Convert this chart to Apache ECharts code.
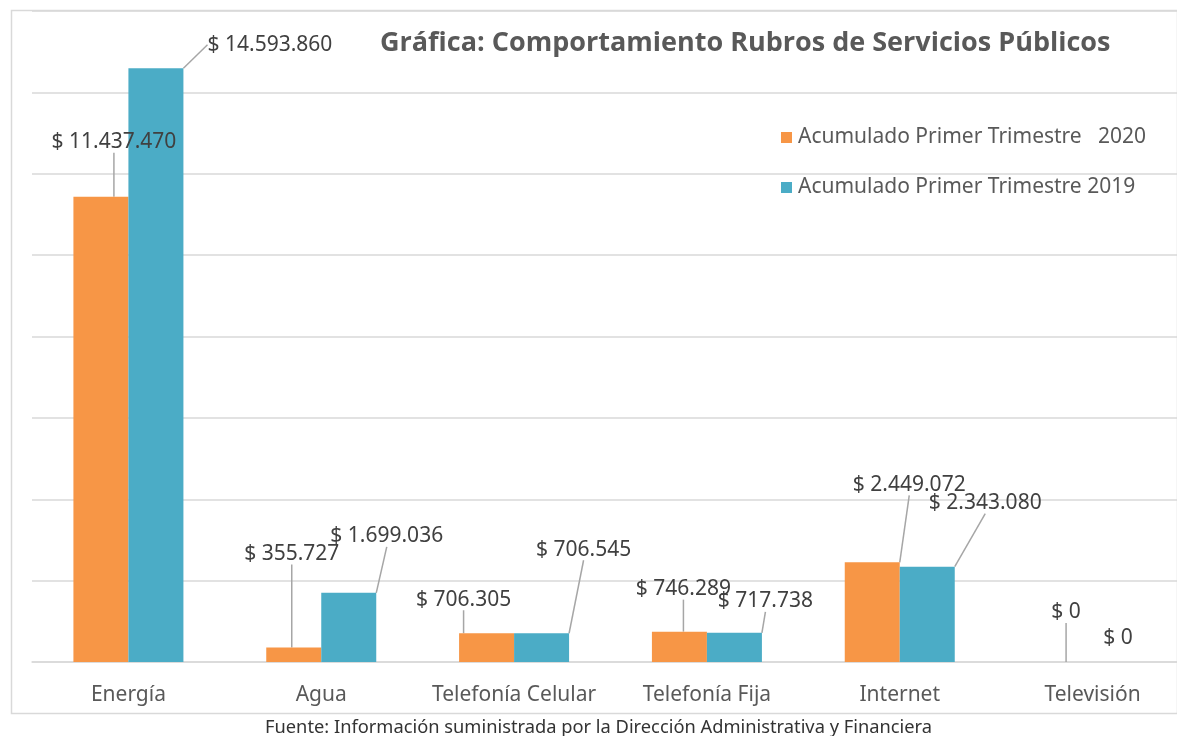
<!DOCTYPE html>
<html style="height: 100%">
<head>
    <meta charset="utf-8">
    <title>Comportamiento Rubros de Servicios Públicos</title>
</head>
<body style="height: 100%; margin: 0; background: #fff">
<div id="container" style="width: 1177px; height: 736px"></div>
<script type="text/javascript" src="https://cdn.jsdelivr.net/npm/echarts@6/dist/echarts.min.js"></script>
<script type="text/javascript">
    var categories = ['Energía', 'Agua', 'Telefonía Celular', 'Telefonía Fija', 'Internet', 'Televisión'];
    var seriesNames = ['Acumulado Primer Trimestre   2020', 'Acumulado Primer Trimestre 2019'];
    var values2020 = [11437470, 355727, 706305, 746289, 2449072, 0];
    var values2019 = [14593860, 1699036, 706545, 717738, 2343080, 0];

    // label offsets from the default "top" position (dx, dy), per series
    var labelShift = [
        [[13, -39], [-2, -78], [-23, -18], [4, -27], [37, -62], [1, -34]],
        [[114, -8], [38, -41], [42, -68], [31, -16], [58, -48], [-2, -8]]
    ];

    function money(v) {
        return '$ ' + String(v).replace(/\B(?=(\d{3})+(?!\d))/g, '.');
    }

    var dom = document.getElementById('container');
    var myChart = echarts.init(dom);

    function makeSeries(idx, values, color) {
        return {
            name: seriesNames[idx],
            type: 'bar',
            barWidth: 55,
            barGap: '0%',
            itemStyle: { color: color },
            label: {
                show: true,
                position: 'top',
                formatter: function (p) { return money(p.value); },
                fontFamily: 'Noto Sans',
                fontSize: 21,
                color: '#404040'
            },
            labelLine: {
                show: true,
                lineStyle: { color: '#a6a6a6', width: 1.5 }
            },
            data: values.map(function (v, i) {
                var item = { value: v };
                if (idx === 1 && i === 5) item.labelLine = { show: false };
                return item;
            })
        };
    }

    var option = {
        animation: false,
        title: {
            text: 'Gráfica: Comportamiento Rubros de Servicios Públicos',
            left: 375,
            top: 25,
            textStyle: {
                fontFamily: 'Open Sans',
                fontWeight: 'bold',
                fontSize: 27,
                color: '#595959'
            }
        },
        legend: {
            orient: 'vertical',
            left: 781,
            top: 127,
            padding: 0,
            itemWidth: 11,
            itemHeight: 11,
            itemGap: 29,
            icon: 'rect',
            textStyle: {
                fontFamily: 'Noto Sans',
                fontSize: 21,
                color: '#595959',
                padding: [0, 0, 0, 1]
            },
            data: seriesNames
        },
        grid: {
            left: 32,
            width: 1157,
            top: 11,
            bottom: 74,
            outerBoundsMode: 'none'
        },
        xAxis: {
            type: 'category',
            data: categories,
            axisLine: { lineStyle: { color: '#d9d9d9', width: 1.5 } },
            axisTick: { show: false },
            axisLabel: {
                interval: 0,
                fontFamily: 'Noto Sans',
                fontSize: 21,
                color: '#595959',
                margin: 23
            }
        },
        yAxis: {
            type: 'value',
            min: 0,
            max: 16000000,
            interval: 2000000,
            axisLine: { show: false },
            axisTick: { show: false },
            axisLabel: { show: false },
            splitLine: { lineStyle: { color: '#d9d9d9', width: 1.5 } }
        },
        labelLayout: function (params) {
            var s = labelShift[params.seriesIndex][params.dataIndex];
            return { dx: s[0], dy: s[1] };
        },
        graphic: [
            {
                type: 'rect',
                left: 9,
                top: 8,
                shape: { width: 1166, height: 703 },
                style: { fill: 'none', stroke: '#d9d9d9', lineWidth: 1.5 },
                silent: true,
                z: -1
            },
            {
                type: 'text',
                left: 265,
                top: 719,
                style: {
                    text: 'Fuente: Información suministrada por la Dirección Administrativa y Financiera',
                    font: '18.3px "Noto Sans"',
                    fill: '#333333'
                }
            }
        ],
        series: [
            makeSeries(0, values2020, '#F79646'),
            makeSeries(1, values2019, '#4BACC6')
        ]
    };

    myChart.setOption(option);
    window.onresize = function () {
        myChart.resize();
    };
</script>
</body>
</html>
